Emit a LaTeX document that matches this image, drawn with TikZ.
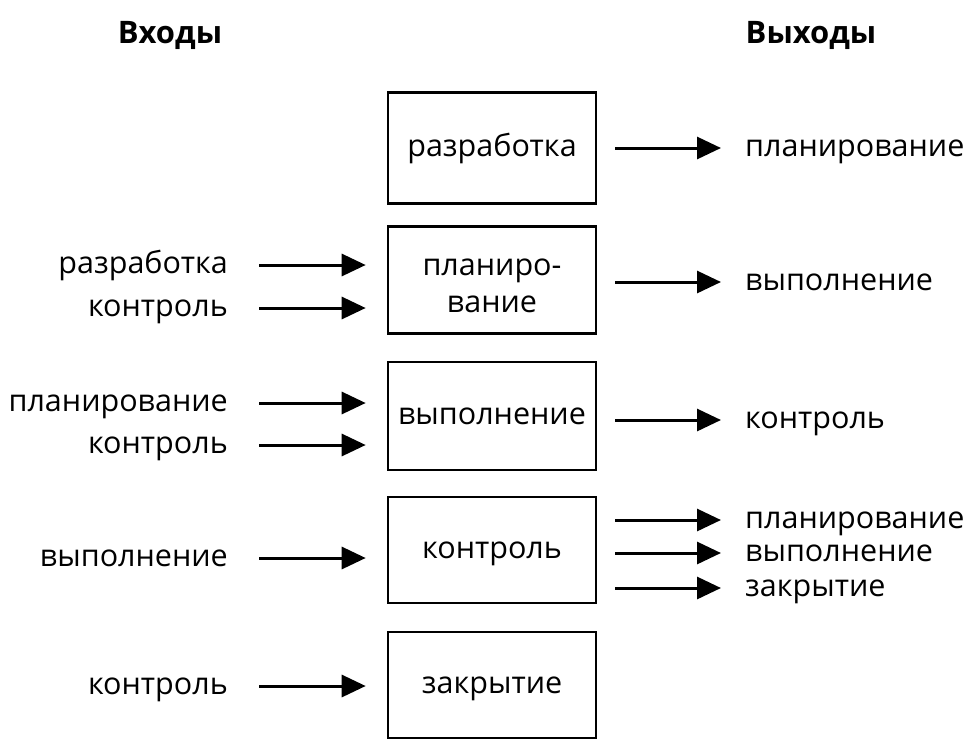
\documentclass[tikz,border=0pt]{standalone}
\usepackage{fontspec}
\setmainfont{Open Sans}
\usetikzlibrary{arrows.meta}
\begin{document}
\begin{tikzpicture}[x=1pt,y=-1pt,
  txt/.style={font=\fontsize{30.5}{37}\selectfont},
  box/.style={draw,line width=2.6pt,minimum width=208pt,align=center,
    txt,inner sep=0pt},
  onebox/.style={box,text height=16.5pt,text depth=0pt},
  lbl/.style={txt,inner sep=0pt,text height=16.5pt,text depth=0pt},
  inlbl/.style={lbl,anchor=east},
  outlbl/.style={lbl,anchor=west},
  head/.style={font=\bfseries\fontsize{31}{36}\selectfont,inner sep=0pt,
    text height=22pt,text depth=0pt},
  arr/.style={line width=3pt,-{Triangle[length=24pt,width=22pt]}},
  inarr/.style={arr,shorten <=31pt,shorten >=21pt},
  outarr/.style={arr,shorten <=18pt,shorten >=24pt}]
\useasboundingbox (0,0) rectangle (967,740);

% column headings
\node[head] (hin)  at (170,32) {Входы};
\node[head] (hout) at (811,32) {Выходы};

% process boxes
\node[onebox,minimum height=111pt] (b1) at (492,148) {разработка};
\node[box,minimum height=107pt] (b2) at (492,280) {};
\node[txt,align=center,inner sep=0pt] (b2t) at (b2.center) [yshift=-6pt] {планиро-\\вание};
\node[onebox,minimum height=108pt] (b3) at (492,416) {выполнение};
\node[onebox,minimum height=106pt] (b4) at (492,550) {контроль};
\node[onebox,minimum height=106pt] (b5) at (492,685) {закрытие};

% inputs
\node[inlbl] (i2a) at (228,265) {разработка};
\node[inlbl] (i2b) at (228,308) {контроль};
\node[inlbl] (i3a) at (228,403) {планирование};
\node[inlbl] (i3b) at (228,445) {контроль};
\node[inlbl] (i4a) at (228,558) {выполнение};
\node[inlbl] (i5a) at (228,686) {контроль};

\foreach \n/\b in {i2a/b2,i2b/b2,i3a/b3,i3b/b3,i4a/b4,i5a/b5}
  \draw[inarr] (\n.east) -- (\n.east -| \b.west);

% outputs
\node[outlbl] (o1a) at (745,148) {планирование};
\node[outlbl] (o2a) at (745,282) {выполнение};
\node[outlbl] (o3a) at (745,420) {контроль};
\node[outlbl] (o4a) at (745,520) {планирование};
\node[outlbl] (o4b) at (745,553) {выполнение};
\node[outlbl] (o4c) at (745,588) {закрытие};

\foreach \n/\b in {o1a/b1,o2a/b2,o3a/b3,o4a/b4,o4b/b4,o4c/b4}
  \draw[outarr] (\n.west -| \b.east) -- (\n.west);
\end{tikzpicture}
\end{document}
